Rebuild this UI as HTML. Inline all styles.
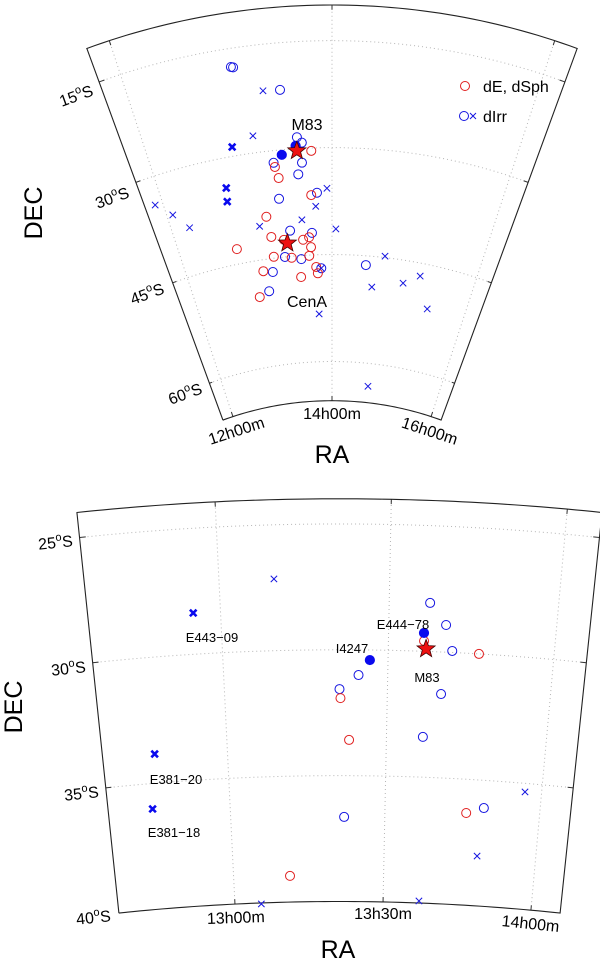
<!DOCTYPE html>
<html><head><meta charset="utf-8"><style>
html,body{margin:0;padding:0;background:#fff;}
svg{display:block;font-family:"Liberation Sans",sans-serif;}
</style></head><body>
<svg id="fig" width="600" height="961" viewBox="0 0 600 961" xmlns="http://www.w3.org/2000/svg">
<g id="top"></g>
<g id="bot"></g>
<g font-size="16" fill="#000">
  <text x="332" y="463" font-size="25" text-anchor="middle">RA</text>
  <text transform="translate(42,213) rotate(-90)" font-size="25" text-anchor="middle">DEC</text>
  <text transform="translate(78,101) rotate(-20)" text-anchor="middle">15<tspan font-size="11" dy="-7">o</tspan><tspan dy="7">S</tspan></text>
  <text transform="translate(114,203) rotate(-20)" text-anchor="middle">30<tspan font-size="11" dy="-7">o</tspan><tspan dy="7">S</tspan></text>
  <text transform="translate(149,299) rotate(-20)" text-anchor="middle">45<tspan font-size="11" dy="-7">o</tspan><tspan dy="7">S</tspan></text>
  <text transform="translate(187,399) rotate(-20)" text-anchor="middle">60<tspan font-size="11" dy="-7">o</tspan><tspan dy="7">S</tspan></text>
  <text transform="translate(238,436) rotate(-18)" text-anchor="middle">12h00m</text>
  <text x="332" y="419" text-anchor="middle">14h00m</text>
  <text transform="translate(428,436) rotate(18)" text-anchor="middle">16h00m</text>
  <text x="307" y="130" text-anchor="middle">M83</text>
  <text x="307" y="307" text-anchor="middle">CenA</text>
  <g>
    <circle cx="465" cy="86" r="4.5" fill="none" stroke="#e02020" stroke-width="1"/>
    <text x="483" y="92">dE, dSph</text>
    <circle cx="464" cy="116" r="4.5" fill="none" stroke="#1515e0" stroke-width="1"/>
    <path d="M470,113 L476,119 M476,113 L470,119" stroke="#1515e0" stroke-width="1"/>
    <text x="483" y="122">dIrr</text>
  </g>
</g>
<g font-size="16" fill="#000">
  <text x="338" y="958" font-size="25" text-anchor="middle">RA</text>
  <text transform="translate(22,707) rotate(-90)" font-size="25" text-anchor="middle">DEC</text>
  <text transform="translate(56,548) rotate(-6)" text-anchor="middle">25<tspan font-size="11" dy="-7">o</tspan><tspan dy="7">S</tspan></text>
  <text transform="translate(69,674) rotate(-6)" text-anchor="middle">30<tspan font-size="11" dy="-7">o</tspan><tspan dy="7">S</tspan></text>
  <text transform="translate(82,799) rotate(-6)" text-anchor="middle">35<tspan font-size="11" dy="-7">o</tspan><tspan dy="7">S</tspan></text>
  <text transform="translate(94,923) rotate(-6)" text-anchor="middle">40<tspan font-size="11" dy="-7">o</tspan><tspan dy="7">S</tspan></text>
  <text transform="translate(236,923) rotate(-2)" text-anchor="middle">13h00m</text>
  <text x="383" y="919" text-anchor="middle">13h30m</text>
  <text transform="translate(530,929) rotate(6)" text-anchor="middle">14h00m</text>
  <g font-size="13">
    <text x="212" y="642" text-anchor="middle">E443−09</text>
    <text x="403" y="629" text-anchor="middle">E444−78</text>
    <text x="352" y="653" text-anchor="middle">I4247</text>
    <text x="427" y="682" text-anchor="middle">M83</text>
    <text x="176" y="784" text-anchor="middle">E381−20</text>
    <text x="174" y="837" text-anchor="middle">E381−18</text>
  </g>
</g>
</svg>
<script>
// ===== Top panel data (RA hours, Dec degrees) =====
const topDeRa   = [13.77,13.35,13.38,13.75,13.18,13.21,12.74,13.37,13.62,13.70,13.72,13.21,13.45,13.69,13.78,13.80,13.04,13.56,12.93];
const topDeDec  = [-30.4,-32.3,-33.9,-36.6,-39.1,-42.0,-42.9,-42.6,-42.8,-42.5,-43.9,-44.8,-45.2,-45.1,-46.7,-47.6,-46.6,-48.0,-50.1];
const topIrrRa  = [13.03,13.05,13.48,13.62,13.67,13.66,13.34,13.61,13.36,13.82,13.46,13.74,13.36,13.58,13.17,13.08,14.47,13.85];
const topIrrDec = [-17.6,-17.7,-21.6,-28.4,-29.2,-32.0,-31.7,-33.6,-36.8,-36.3,-41.4,-41.9,-45.0,-45.5,-46.9,-49.5,-46.3,-46.9];
const topFillRa  = [13.44,13.60];
const topFillDec = [-30.7,-29.6];
const topXRa   = [13.31,13.15,11.91,12.07,12.22,13.08,13.62,13.80,13.94,14.05,13.85,14.72,14.58,15.02,15.24,15.44,13.80,14.68];
const topXDec  = [-21.5,-27.6,-33.9,-36.0,-38.4,-40.3,-40.0,-38.2,-35.7,-41.4,-46.9,-44.8,-49.3,-48.2,-46.8,-51.1,-53.3,-63.2];
const topBoldXRa  = [12.91,12.76,12.74];
const topBoldXDec = [-28.7,-34.2,-36.1];
const topStarRa  = [13.61,13.41];
const topStarDec = [-30.3,-43.1];
const topDecTicks = [-15,-30,-45,-60];
const topRaTicks  = [12,14,16];

// ===== Bottom panel data =====
const botDeRa   = [13.774,13.607,13.356,13.383,13.763,13.188];
const botDeDec  = [-30.0,-29.59,-31.92,-33.58,-36.34,-38.96];
const botIrrRa  = [13.621,13.671,13.693,13.411,13.353,13.665,13.614,13.819,13.368];
const botIrrDec = [-28.07,-28.92,-29.94,-31.0,-31.56,-31.67,-33.4,-36.10,-36.64];
const botFillRa  = [13.606,13.445];
const botFillDec = [-29.27,-30.4];
const botXRa   = [13.161,13.947,13.807,13.089,13.621];
const botXDec  = [-27.15,-35.34,-38.02,-40.04,-39.92];
const botBoldXRa  = [12.919,12.771,12.750];
const botBoldXDec = [-28.36,-33.84,-36.01];
const botStarRa  = [13.614];
const botStarDec = [-29.9];
const botDecTicks = [-25,-30,-35];
const botRaTicks  = [13,13.5,14];

const NS='http://www.w3.org/2000/svg';
function mk(tag,attrs,parent){const e=document.createElementNS(NS,tag);for(const k in attrs)e.setAttribute(k,attrs[k]);parent.appendChild(e);return e;}

function makeProj(cx,cy,r0,dec0,kdec,ra0,kra){
  return function(ra,dec){
    const r=r0+(dec-dec0)*kdec;
    const t=(ra-ra0)*kra*Math.PI/180;
    return [cx+r*Math.sin(t), cy-r*Math.cos(t)];
  };
}
const pTop=makeProj(332,718,0,-110,7.13,14,9.1);
const pBot=makeProj(339.5,3018,2116.5,-40,25.17,13.353,8.02);

function arcPath(P,dec,ra1,ra2){let d='';for(let i=0;i<=60;i++){const ra=ra1+(ra2-ra1)*i/60;const q=P(ra,dec);d+=(i?'L':'M')+q[0].toFixed(2)+','+q[1].toFixed(2);}return d;}
function merPath(P,ra,d1,d2){const a=P(ra,d1),b=P(ra,d2);return 'M'+a[0]+','+a[1]+'L'+b[0]+','+b[1];}

function drawPanel(g,P,raMin,raMax,decMin,decMax,decTicks,raTicks,d){
  // grid
  decTicks.forEach(dc=>{
    const e=mk('path',{d:arcPath(P,dc,raMin,raMax),fill:'none',stroke:'#b5b5b5','stroke-width':1,'stroke-dasharray':'1,3'},g);
    
    
    // ticks on left and right edges
    [[raMin,1],[raMax,-1]].forEach(([ra,s])=>{
      const a=P(ra,dc),b=P(ra+s*(raMax-raMin)*0.012,dc);
      const t=mk('line',{x1:a[0],y1:a[1],x2:b[0],y2:b[1],stroke:'#333','stroke-width':1},g);
      
      
    });
  });
  raTicks.forEach(ra=>{
    const e=mk('path',{d:merPath(P,ra,decMin,decMax),fill:'none',stroke:'#b5b5b5','stroke-width':1,'stroke-dasharray':'1,3'},g);
    
    
    [[decMin,1],[decMax,-1]].forEach(([dc,s])=>{
      const a=P(ra,dc),b=P(ra,dc+s*(decMax-decMin)*0.012);
      const t=mk('line',{x1:a[0],y1:a[1],x2:b[0],y2:b[1],stroke:'#333','stroke-width':1},g);
      
      
    });
  });
  // frame
  const a=P(raMin,decMax),b=P(raMin,decMin),c=P(raMax,decMin),dd=P(raMax,decMax);
  const fr='M'+a[0]+','+a[1]+'L'+b[0]+','+b[1]+arcPath(P,decMin,raMin,raMax).replace('M','L')+'L'+dd[0]+','+dd[1]+arcPath(P,decMax,raMax,raMin).replace('M','L')+'Z';
  const f=mk('path',{d:fr,fill:'none',stroke:'#222','stroke-width':1.1},g);
  
  

  // markers
  d.irrRa.forEach((ra,i)=>{const q=P(ra,d.irrDec[i]);
    const e=mk('circle',{cx:q[0],cy:q[1],r:4.5,fill:'none',stroke:'#1515e0','stroke-width':1},g);
    
    });
  d.deRa.forEach((ra,i)=>{const q=P(ra,d.deDec[i]);
    const e=mk('circle',{cx:q[0],cy:q[1],r:4.5,fill:'none',stroke:'#e02020','stroke-width':1},g);
    
    });
  d.xRa.forEach((ra,i)=>{const q=P(ra,d.xDec[i]);const s=3.2;
    const e=mk('path',{d:`M${q[0]-s},${q[1]-s}L${q[0]+s},${q[1]+s}M${q[0]+s},${q[1]-s}L${q[0]-s},${q[1]+s}`,stroke:'#1515e0','stroke-width':1},g);
    
    });
  d.bxRa.forEach((ra,i)=>{const q=P(ra,d.bxDec[i]);const s=3.3;
    const e=mk('path',{d:`M${q[0]-s},${q[1]-s}L${q[0]+s},${q[1]+s}M${q[0]+s},${q[1]-s}L${q[0]-s},${q[1]+s}`,stroke:'#0a0aee','stroke-width':2.6},g);
    
    });
  d.fillRa.forEach((ra,i)=>{const q=P(ra,d.fillDec[i]);
    const e=mk('circle',{cx:q[0],cy:q[1],r:4.6,fill:'#0a0aee',stroke:'#0a0aee','stroke-width':1},g);
    
    });
  d.starRa.forEach((ra,i)=>{const q=P(ra,d.starDec[i]);let s='';
    for(let k=0;k<10;k++){const rr=k%2?4:9.5;const an=-Math.PI/2+k*Math.PI/5;s+=(k?'L':'M')+(q[0]+rr*Math.cos(an)).toFixed(2)+','+(q[1]+rr*Math.sin(an)).toFixed(2);}
    const e=mk('path',{d:s+'Z',fill:'#ee1010',stroke:'#400','stroke-width':0.8},g);
    
    });
}

drawPanel(document.getElementById('top'),pTop,11.79,16.21,-65.5,-10,topDecTicks,topRaTicks,
  {deRa:topDeRa,deDec:topDeDec,irrRa:topIrrRa,irrDec:topIrrDec,fillRa:topFillRa,fillDec:topFillDec,
   xRa:topXRa,xDec:topXDec,bxRa:topBoldXRa,bxDec:topBoldXDec,starRa:topStarRa,starDec:topStarDec});
drawPanel(document.getElementById('bot'),pBot,12.607,14.099,-40,-24,botDecTicks,botRaTicks,
  {deRa:botDeRa,deDec:botDeDec,irrRa:botIrrRa,irrDec:botIrrDec,fillRa:botFillRa,fillDec:botFillDec,
   xRa:botXRa,xDec:botXDec,bxRa:botBoldXRa,bxDec:botBoldXDec,starRa:botStarRa,starDec:botStarDec});
</script>
</body></html>
